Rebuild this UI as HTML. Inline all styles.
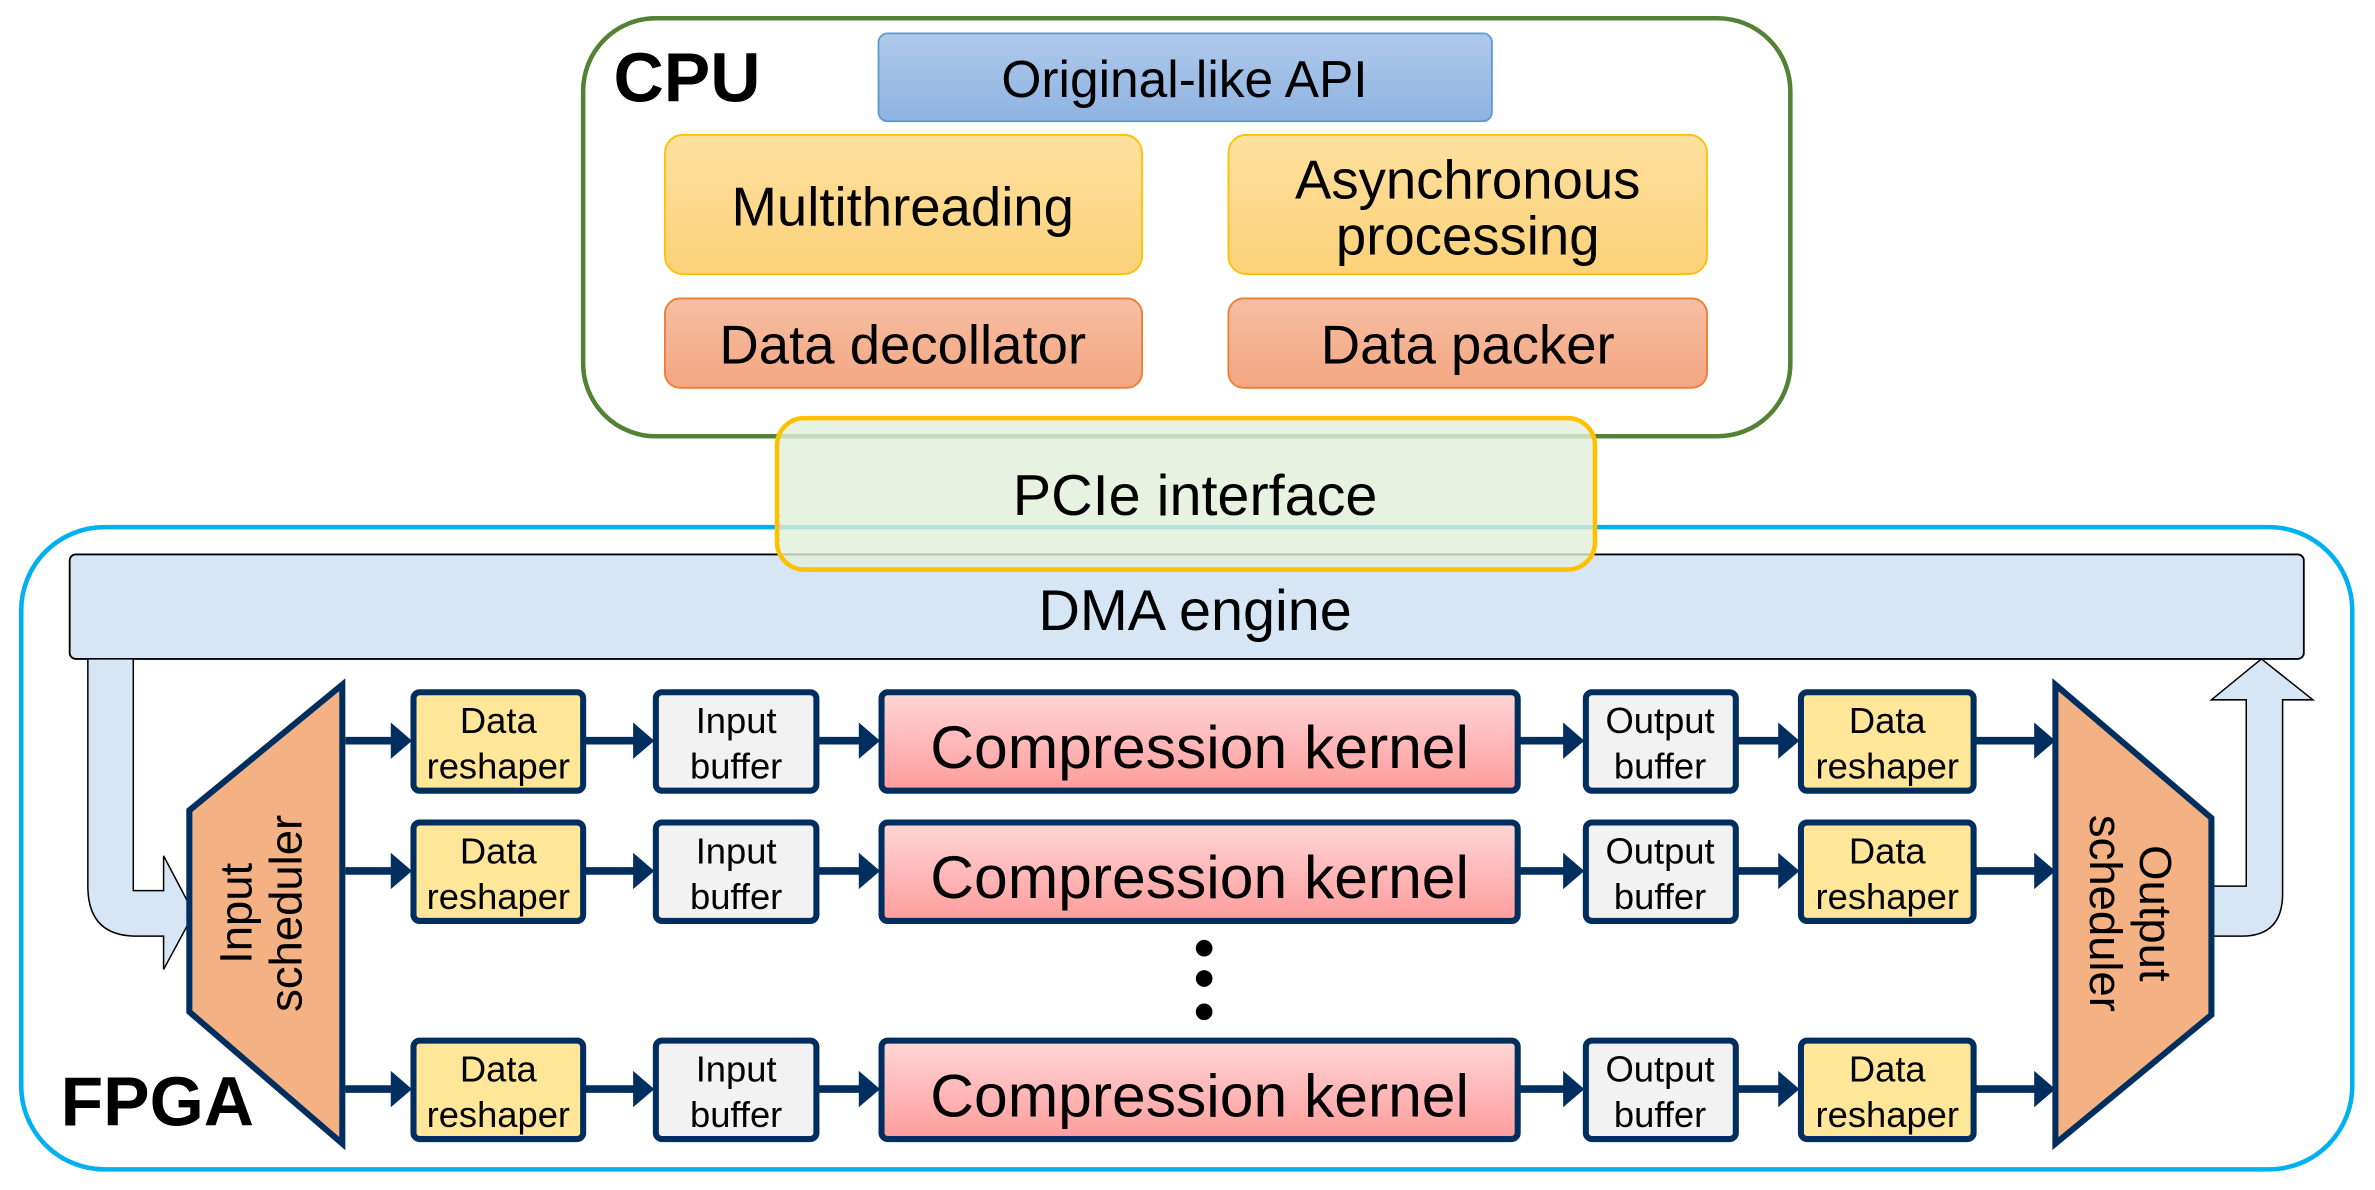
<!DOCTYPE html>
<html><head><meta charset="utf-8"><style>html,body{margin:0;padding:0;background:#fff}svg{display:block}</style></head>
<body>
<svg width="2375" height="1190" viewBox="0 0 1568 785.6" xmlns="http://www.w3.org/2000/svg" font-family="Liberation Sans, sans-serif">
<defs>
<linearGradient id="gb" x1="0" y1="0" x2="0" y2="1"><stop offset="0" stop-color="#b0c9ea"/><stop offset="1" stop-color="#8eb3e2"/></linearGradient>
<linearGradient id="gy" x1="0" y1="0" x2="0" y2="1"><stop offset="0" stop-color="#fee09e"/><stop offset="1" stop-color="#fcd27a"/></linearGradient>
<linearGradient id="go" x1="0" y1="0" x2="0" y2="1"><stop offset="0" stop-color="#f5bfa3"/><stop offset="1" stop-color="#f4a682"/></linearGradient>
<linearGradient id="gk" x1="0" y1="0" x2="0" y2="1"><stop offset="0" stop-color="#ffd6d6"/><stop offset="1" stop-color="#ff9c9c"/></linearGradient>
</defs>
<!-- CPU -->
<rect x="385" y="12" width="797" height="276" rx="48" fill="#fff" stroke="#548235" stroke-width="3"/>
<text x="405" y="67" font-size="46" font-weight="bold">CPU</text>
<rect x="580" y="22" width="405" height="58" rx="6" fill="url(#gb)" stroke="#5b9bd5" stroke-width="1.2"/>
<text x="782" y="64" font-size="34" text-anchor="middle">Original-like API</text>
<rect x="439" y="89" width="315" height="92" rx="12" fill="url(#gy)" stroke="#ffc000" stroke-width="1.2"/>
<text x="596" y="149" font-size="36" text-anchor="middle">Multithreading</text>
<rect x="811" y="89" width="316" height="92" rx="12" fill="url(#gy)" stroke="#ffc000" stroke-width="1.2"/>
<text x="969" y="131" font-size="36" text-anchor="middle">Asynchronous</text>
<text x="969" y="168" font-size="36" text-anchor="middle">processing</text>
<rect x="439" y="197" width="315" height="59" rx="10" fill="url(#go)" stroke="#ed7d31" stroke-width="1.2"/>
<text x="596" y="240" font-size="36" text-anchor="middle">Data decollator</text>
<rect x="811" y="197" width="316" height="59" rx="10" fill="url(#go)" stroke="#ed7d31" stroke-width="1.2"/>
<text x="969" y="240" font-size="36" text-anchor="middle">Data packer</text>
<!-- FPGA -->
<rect x="14" y="348" width="1539" height="424" rx="55" fill="#fff" stroke="#00b0f0" stroke-width="3"/>
<rect x="46" y="366" width="1475" height="69" rx="4" fill="#d6e6f5" stroke="#000" stroke-width="1.2"/>
<!-- PCIe -->
<rect x="513" y="276" width="540" height="100" rx="18" fill="#e2efd9" fill-opacity="0.8" stroke="#ffc000" stroke-width="3"/>
<text x="789" y="340" font-size="38" text-anchor="middle">PCIe interface</text>
<text x="789" y="416" font-size="38" text-anchor="middle">DMA engine</text>
<text x="40" y="743" font-size="46" font-weight="bold">FPGA</text>
<!-- input arrow -->
<path d="M58,435 L58,585 Q58,618 90,618 L108,618 L108,640 L128,603 L108,565 L108,588 L88,588 L88,435 Z" fill="#d6e6f5" stroke="#000" stroke-width="1"/>
<!-- output arrow -->
<path d="M1460,585 L1483,585 L1483,462 L1460,462 L1493,435 L1527,462 L1507,462 L1507,590 Q1507,618 1480,618 L1460,618 Z" fill="#d6e6f5" stroke="#000" stroke-width="1"/>
<!-- schedulers -->
<polygon points="125,535 226,452 226,755 125,668" fill="#f4b183" stroke="#002f5f" stroke-width="4"/>
<text transform="translate(170,603) rotate(-90)" font-size="30" text-anchor="middle"><tspan x="0" y="-4">Input</tspan><tspan x="0" y="29">scheduler</tspan></text>
<polygon points="1357,452 1460,540 1460,670 1357,755" fill="#f4b183" stroke="#002f5f" stroke-width="4"/>
<text transform="translate(1405,603) rotate(90)" font-size="30" text-anchor="middle"><tspan x="0" y="-8">Output</tspan><tspan x="0" y="25">scheduler</tspan></text>
<!-- rows -->
<g id="row">
<g stroke="#002f5f" stroke-width="5" fill="none">
<line x1="228" y1="489" x2="262" y2="489"/><line x1="386" y1="489" x2="422" y2="489"/><line x1="540" y1="489" x2="571" y2="489"/>
<line x1="1003" y1="489" x2="1036" y2="489"/><line x1="1147" y1="489" x2="1178" y2="489"/><line x1="1304" y1="489" x2="1345" y2="489"/>
</g>
<g fill="#002f5f">
<polygon points="258,477 272,489 258,501"/><polygon points="418,477 432,489 418,501"/><polygon points="567,477 581,489 567,501"/>
<polygon points="1032,477 1046,489 1032,501"/><polygon points="1174,477 1188,489 1174,501"/><polygon points="1343,477 1357,489 1343,501"/>
</g>
<rect x="273" y="457" width="112" height="65" rx="4" fill="#ffe699" stroke="#002f5f" stroke-width="4"/>
<text x="329" y="484" font-size="24" text-anchor="middle">Data</text><text x="329" y="514" font-size="24" text-anchor="middle">reshaper</text>
<rect x="433" y="457" width="106" height="65" rx="4" fill="#f2f2f2" stroke="#002f5f" stroke-width="4"/>
<text x="486" y="484" font-size="24" text-anchor="middle">Input</text><text x="486" y="514" font-size="24" text-anchor="middle">buffer</text>
<rect x="582" y="457" width="420" height="65" rx="4" fill="url(#gk)" stroke="#002f5f" stroke-width="4"/>
<text x="792" y="507" font-size="40" text-anchor="middle">Compression kernel</text>
<rect x="1047" y="457" width="99" height="65" rx="4" fill="#f2f2f2" stroke="#002f5f" stroke-width="4"/>
<text x="1096" y="484" font-size="24" text-anchor="middle">Output</text><text x="1096" y="514" font-size="24" text-anchor="middle">buffer</text>
<rect x="1189" y="457" width="114" height="65" rx="4" fill="#ffe699" stroke="#002f5f" stroke-width="4"/>
<text x="1246" y="484" font-size="24" text-anchor="middle">Data</text><text x="1246" y="514" font-size="24" text-anchor="middle">reshaper</text>
</g>
<use href="#row" transform="translate(0,86)"/>
<use href="#row" transform="translate(0,230)"/>
<circle cx="795" cy="626" r="5.5" fill="#000"/><circle cx="795" cy="646" r="5.5" fill="#000"/><circle cx="795" cy="668" r="5.5" fill="#000"/>
</svg>
</body></html>
